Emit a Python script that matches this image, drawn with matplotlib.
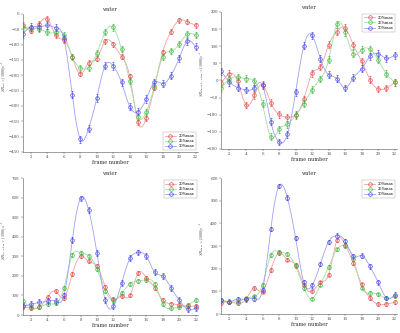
import numpy as np
import matplotlib
matplotlib.use("Agg")
import matplotlib.pyplot as plt

plt.rcParams['mathtext.fontset'] = 'cm'
plt.rcParams['font.family'] = ['DejaVu Serif']

frames = list(range(1, 23))
xticks = [2, 4, 6, 8, 10, 12, 14, 16, 18, 20, 22]
series_labels = ['20%max', '25%max', '30%max']
title_text = 'water'

tl_red = [-35, -54, -32, -16, -70, -86, -139, -196, -159, -146, -89, -99, -139, -204, -354, -340, -240, -125, -58, -21, -25, -37]
tl_green = [-43, -45, -49, -60, -60, -69, -140, -175, -175, -128, -60, -44, -115, -220, -335, -320, -236, -140, -122, -99, -66, -69]
tl_blue = [-66, -42, -42, -37, -45, -80, -263, -409, -374, -274, -169, -170, -223, -302, -319, -278, -223, -227, -201, -145, -89, -107]

tr_red = [-9, 20, -3, -72, -44, -13, -65, -99, -108, -100, -55, 21, 39, 104, 142, 154, 103, 56, 2, -25, -22, -6]
tr_green = [-23, 4, 10, 5, -2, -68, -165, -143, -128, -102, -68, -27, 4, 60, 164, 141, 78, 90, 91, 60, 19, -5]
tr_blue = [27, -5, -21, -28, -22, -14, -121, -180, -158, -35, 101, 132, 63, 17, 5, -22, 8, 34, 70, 78, 65, 74]

bl_red = [44, 34, 39, 92, 121, 89, 209, 301, 274, 249, 145, 80, 95, 100, 215, 189, 140, 75, 58, 51, 44, 48]
bl_green = [70, 39, 39, 58, 60, 140, 305, 319, 303, 235, 124, 75, 111, 160, 175, 181, 160, 55, 34, 39, 51, 78]
bl_blue = [44, 55, 65, 70, 72, 100, 385, 596, 535, 315, 75, 44, 165, 290, 320, 300, 218, 199, 136, 75, 29, 37]

br_red = [50, 53, 47, 65, 115, 99, 194, 269, 240, 217, 130, 100, 140, 174, 325, 306, 225, 131, 71, 43, 44, 52]
br_green = [61, 55, 55, 69, 78, 129, 260, 275, 264, 211, 115, 68, 130, 208, 285, 300, 244, 117, 93, 87, 69, 78]
br_blue = [60, 55, 65, 65, 68, 106, 375, 566, 514, 335, 140, 126, 220, 319, 346, 323, 255, 258, 210, 140, 71, 86]

# estimated error-bar half-lengths per panel
err_tl = [8, 10, 12]
err_tr = [10, 10, 10]
err_bl = [10, 10, 15]
err_br = [8, 8, 10]

ylabels = [r'$SR_{\rm rad}\times(1000)s^{-1}$',
           r'$SR_{\rm through-plane}\times(1000)s^{-1}$',
           r'$SR_{\rm in-plane}\times(1000)s^{-1}$',
           r'$SR_{\rm shear}\times(1000)s^{-1}$']


def natural_spline(x, y, xs):
    x = np.asarray(x, float); y = np.asarray(y, float)
    n = len(x)
    h = np.diff(x)
    A = np.zeros((n, n)); b = np.zeros(n)
    A[0, 0] = 1; A[-1, -1] = 1
    for i in range(1, n - 1):
        A[i, i - 1] = h[i - 1]; A[i, i] = 2 * (h[i - 1] + h[i]); A[i, i + 1] = h[i]
        b[i] = 3 * ((y[i + 1] - y[i]) / h[i] - (y[i] - y[i - 1]) / h[i - 1])
    c = np.linalg.solve(A, b)
    idx = np.clip(np.searchsorted(x, xs) - 1, 0, n - 2)
    dx = xs - x[idx]
    bb = (y[idx + 1] - y[idx]) / h[idx] - h[idx] * (2 * c[idx] + c[idx + 1]) / 3
    d = (c[idx + 1] - c[idx]) / (3 * h[idx])
    return y[idx] + bb * dx + c[idx] * dx ** 2 + d * dx ** 3


line_colors = ['#f4a0a0', '#a0e0a0', '#a0a0f4']
mark_colors = ['#e84848', '#40b840', '#4848e8']

fig = plt.figure(figsize=(4.0, 3.33), dpi=100)
positions = [[0.057, 0.544, 0.438, 0.414],
             [0.553, 0.553, 0.440, 0.411],
             [0.057, 0.054, 0.439, 0.411],
             [0.553, 0.057, 0.440, 0.408]]
panels = [(tl_red, tl_green, tl_blue), (tr_red, tr_green, tr_blue),
          (bl_red, bl_green, bl_blue), (br_red, br_green, br_blue)]
errs = [err_tl, err_tr, err_bl, err_br]
ylims = [(-450, 0), (-200, 200), (0, 700), (0, 600)]
yticks = [np.arange(-450, 1, 50), np.arange(-200, 201, 50), np.arange(0, 701, 100), np.arange(0, 601, 100)]
legend_locs = ['lower right', 'upper right', 'upper right', 'upper right']

xs = np.linspace(1, 22, 400)
for k in range(4):
    ax = fig.add_axes(positions[k])
    for j, ys in enumerate(panels[k]):
        sm = natural_spline(frames, ys, xs)
        ax.plot(xs, sm, color=line_colors[j], lw=0.6, zorder=2)
        ax.errorbar(frames, ys, yerr=errs[k][j], fmt='o', ms=2.6, mfc='none',
                    mec=mark_colors[j], mew=0.5, ecolor=mark_colors[j], elinewidth=0.4,
                    capsize=1.0, capthick=0.4, zorder=3)
    handles = [plt.Line2D([], [], color=line_colors[j], lw=0.6, marker='o', ms=2.6, mfc='none',
                          mec=mark_colors[j], mew=0.5) for j in range(3)]
    leg = ax.legend(handles, series_labels, loc=legend_locs[k], fontsize=2.6, frameon=True,
                    handlelength=3, borderpad=0.5, labelspacing=0.3, fancybox=False)
    leg.get_frame().set_linewidth(0.3)
    leg.get_frame().set_edgecolor('#888888')
    ax.set_xlim(1, 22.3)
    ax.set_ylim(*ylims[k])
    ax.set_xticks(xticks)
    ax.set_yticks(yticks[k])
    ax.spines['top'].set_visible(False)
    ax.spines['right'].set_visible(False)
    for s in ['left', 'bottom']:
        ax.spines[s].set_linewidth(0.4)
        ax.spines[s].set_color('#555555')
    ax.tick_params(labelsize=2.8, width=0.3, length=1.2, colors='#444444', pad=1.2)
    ax.set_title(title_text, fontsize=3.6, pad=2, color='#333333')
    ax.set_xlabel('frame number', fontsize=3.6, labelpad=0.8, color='#333333')
    ax.set_ylabel(ylabels[k], fontsize=2.8, color='#333333', va='center')
    ax.yaxis.set_label_coords(-0.11, 0.55)

fig.savefig('out.png', dpi=100)
